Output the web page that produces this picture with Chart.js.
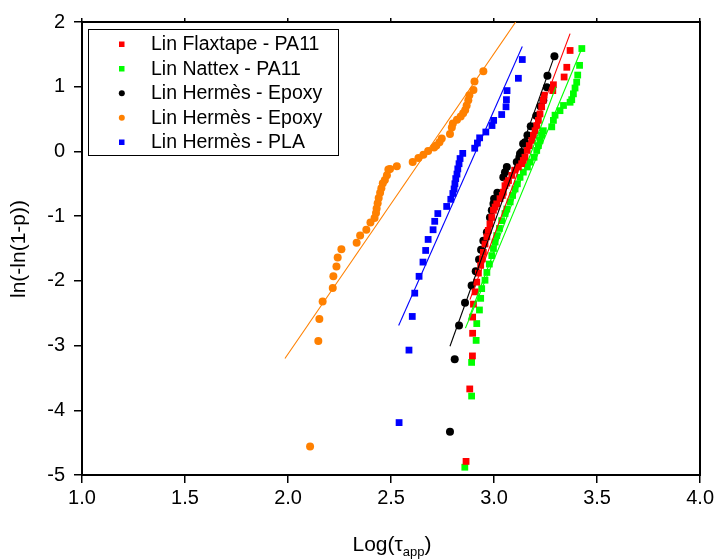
<!DOCTYPE html>
<html><head><meta charset="utf-8">
<script src="https://cdn.jsdelivr.net/npm/chart.js@4.4.0/dist/chart.umd.min.js"></script>
<style>html,body{margin:0;padding:0;background:#fff}#wrap{width:717px;height:560px}</style>
</head><body><div id="wrap"><canvas id="c" width="717" height="560"></canvas></div>
<script>
// ---- data (x = Log(tau_app), y = ln(-ln(1-p))) ----
const seriesLabels = ['Lin Flaxtape - PA11','Lin Nattex - PA11','Lin Hermès - Epoxy','Lin Hermès - Epoxy','Lin Hermès - PLA'];
const xTicks = [1.0,1.5,2.0,2.5,3.0,3.5,4.0];
const yTicks = [2,1,0,-1,-2,-3,-4,-5];

const flaxtapePA11 = [[2.864,-4.79],[2.882,-3.67],[2.895,-3.16],[2.896,-2.81],[2.896,-2.56],[2.900,-2.36],[2.908,-2.17],[2.916,-2.02],[2.924,-1.88],[2.935,-1.76],[2.943,-1.66],[2.948,-1.56],[2.956,-1.43],[2.965,-1.32],[2.972,-1.22],[2.980,-1.12],[2.989,-1.02],[2.997,-0.91],[3.005,-0.86],[3.013,-0.81],[3.029,-0.73],[3.040,-0.68],[3.045,-0.63],[3.053,-0.53],[3.062,-0.49],[3.070,-0.45],[3.086,-0.37],[3.100,-0.29],[3.118,-0.24],[3.134,-0.19],[3.142,-0.14],[3.150,-0.09],[3.161,0.015],[3.171,0.09],[3.183,0.17],[3.191,0.25],[3.199,0.32],[3.207,0.40],[3.215,0.48],[3.223,0.58],[3.231,0.69],[3.239,0.79],[3.243,0.87],[3.285,0.94],[3.288,1.03],[3.340,1.15],[3.353,1.30],[3.369,1.56]];
const nattexPA11 = [[2.858,-4.88],[2.891,-3.78],[2.891,-3.26],[2.913,-2.92],[2.916,-2.66],[2.929,-2.45],[2.935,-2.27],[2.940,-2.12],[2.956,-1.99],[2.965,-1.87],[2.977,-1.74],[2.989,-1.61],[2.997,-1.50],[3.005,-1.40],[3.013,-1.30],[3.026,-1.19],[3.037,-1.07],[3.053,-0.96],[3.062,-0.89],[3.078,-0.78],[3.090,-0.68],[3.102,-0.58],[3.113,-0.50],[3.126,-0.40],[3.142,-0.32],[3.162,-0.24],[3.175,-0.165],[3.194,-0.09],[3.207,0.015],[3.215,0.09],[3.223,0.17],[3.231,0.25],[3.239,0.32],[3.280,0.38],[3.288,0.48],[3.296,0.56],[3.320,0.63],[3.337,0.71],[3.369,0.76],[3.377,0.80],[3.385,0.89],[3.393,0.98],[3.401,1.07],[3.406,1.18],[3.415,1.33],[3.426,1.59]];
const hermesEpoxyBlack = [[2.786,-4.33],[2.809,-3.21],[2.830,-2.69],[2.859,-2.34],[2.891,-2.07],[2.911,-1.85],[2.927,-1.67],[2.937,-1.52],[2.948,-1.38],[2.965,-1.25],[2.980,-1.02],[2.989,-0.91],[2.997,-0.81],[3.000,-0.73],[3.016,-0.64],[3.045,-0.40],[3.053,-0.32],[3.062,-0.24],[3.110,-0.165],[3.123,-0.09],[3.126,-0.035],[3.134,-0.01],[3.141,0.12],[3.150,0.14],[3.162,0.25],[3.178,0.39],[3.205,0.55],[3.225,0.70],[3.239,0.79],[3.256,0.99],[3.259,1.17],[3.293,1.47]];
const hermesEpoxyOrange = [[2.107,-4.56],[2.147,-2.93],[2.152,-2.59],[2.168,-2.32],[2.217,-2.11],[2.220,-1.93],[2.235,-1.78],[2.241,-1.64],[2.259,-1.51],[2.333,-1.41],[2.350,-1.30],[2.380,-1.21],[2.400,-1.10],[2.420,-1.03],[2.427,-0.95],[2.430,-0.88],[2.435,-0.80],[2.440,-0.72],[2.447,-0.64],[2.453,-0.57],[2.460,-0.49],[2.470,-0.44],[2.480,-0.37],[2.487,-0.28],[2.495,-0.27],[2.528,-0.23],[2.605,-0.165],[2.633,-0.10],[2.657,-0.05],[2.680,0.005],[2.709,0.06],[2.720,0.09],[2.735,0.14],[2.746,0.20],[2.786,0.27],[2.795,0.37],[2.800,0.43],[2.820,0.49],[2.838,0.54],[2.850,0.59],[2.860,0.64],[2.867,0.71],[2.875,0.79],[2.880,0.87],[2.900,0.95],[2.905,1.08],[2.948,1.24]];
const hermesPLA = [[2.539,-4.19],[2.587,-3.07],[2.603,-2.55],[2.615,-2.19],[2.636,-1.93],[2.655,-1.71],[2.668,-1.53],[2.680,-1.36],[2.704,-1.21],[2.712,-1.08],[2.727,-0.96],[2.770,-0.85],[2.790,-0.74],[2.800,-0.65],[2.806,-0.58],[2.810,-0.50],[2.814,-0.42],[2.820,-0.35],[2.824,-0.27],[2.830,-0.19],[2.835,-0.11],[2.848,-0.03],[2.906,0.05],[2.919,0.13],[2.930,0.21],[2.960,0.30],[2.990,0.40],[2.998,0.48],[3.037,0.57],[3.058,0.69],[3.060,0.80],[3.063,0.94],[3.118,1.13],[3.137,1.42]];

// fitted lines (end points)
const fitFlaxtape = [[2.883,-2.29],[3.369,1.82]];
const fitNattex = [[2.861,-2.73],[3.426,1.59]];
const fitNattex2 = [[2.875,-2.60],[3.300,1.00]];
const fitEpoxyBlack = [[2.786,-3.01],[3.296,1.50]];
const fitEpoxyOrange = [[1.985,-3.20],[3.105,2.00]];
const fitPLA = [[2.537,-2.69],[3.137,1.62]];

const FONT = "'Liberation Sans', Arial, Helvetica, sans-serif";
const toPts = a => a.map(p => ({x:p[0], y:p[1]}));

const colors = ['#ff0000','#00ff00','#000000','#ff8000','#0000ff'];
const styles = ['rect','rect','circle','circle','rect'];
const seriesData = [flaxtapePA11, nattexPA11, hermesEpoxyBlack, hermesEpoxyOrange, hermesPLA];
const drawOrder = [10,14,12,16,15];

const datasets = [];
seriesData.forEach((d,i) => {
  datasets.push({label: seriesLabels[i], data: toPts(d), backgroundColor: colors[i], borderColor: colors[i],
    pointStyle: styles[i], pointRadius: styles[i]==='rect'?4.8:4, pointBorderWidth:0, pointHoverRadius:0, order: drawOrder[i]});
});
const fits = [[fitFlaxtape,'#ff0000'],[fitNattex,'#00ff00'],[fitNattex2,'#00ff00'],[fitEpoxyBlack,'#000000'],[fitEpoxyOrange,'#ff8000'],[fitPLA,'#0000ff']];
fits.forEach(f => datasets.push({type:'line', label:'fit', data: toPts(f[0]), borderColor: f[1], borderWidth:1.1, pointRadius:0, fill:false, showLine:true, order:1}));

const legendPlugin = {
  id:'customLegend',
  afterDraw(chart){
    const ctx = chart.ctx;
    ctx.save();
    ctx.fillStyle='#fff'; ctx.fillRect(88.5,29.5,250,126);
    ctx.strokeStyle='#000'; ctx.lineWidth=1; ctx.strokeRect(88.5,29.5,250,126);
    const rows=[44,68.5,93,117.5,142];
    ctx.font = "19.5px " + FONT; ctx.textBaseline='middle'; ctx.textAlign='left';
    for(let i=0;i<5;i++){
      ctx.fillStyle=colors[i];
      if(styles[i]==='rect'){ ctx.fillRect(119,rows[i]-2.5,5.5,5.5); }
      else { ctx.beginPath(); ctx.arc(121.8,rows[i]+0.3,3,0,Math.PI*2); ctx.fill(); }
      ctx.fillStyle='#000';
      ctx.fillText(seriesLabels[i],151,rows[i]+1);
    }
    // axis titles
    ctx.fillStyle='#000';
    ctx.textBaseline='alphabetic';
    const big = "21px " + FONT, small = "13px " + FONT;
    ctx.font=big; const w1=ctx.measureText('Log(τ').width, w3=ctx.measureText(')').width;
    ctx.font=small; const w2=ctx.measureText('app').width;
    let x0 = 392 - (w1+w2+w3)/2;
    ctx.font=big; ctx.fillText('Log(τ',x0,551);
    ctx.font=small; ctx.fillText('app',x0+w1,556);
    ctx.font=big; ctx.fillText(')',x0+w1+w2,551);
    ctx.translate(19,249); ctx.rotate(-Math.PI/2);
    ctx.font="21px " + FONT; ctx.textAlign='center'; ctx.textBaseline='middle';
    ctx.fillText('ln(-ln(1-p))',0,0);
    ctx.restore();
  }
};

const axisCommon = {grid:{drawOnChartArea:false, drawTicks:true, tickLength:8, color:'#000', lineWidth:1.5}, border:{display:true, color:'#000', width:2}};

new Chart(document.getElementById('c'), {
  type:'scatter',
  data:{datasets},
  options:{
    responsive:false, animation:false, devicePixelRatio:1,
    layout:{padding:{left:0,right:16,top:22,bottom:0}},
    plugins:{legend:{display:false}, tooltip:{enabled:false}},
    events:[],
    scales:{
      x:{type:'linear', position:'bottom', min:xTicks[0], max:xTicks[xTicks.length-1],
        afterBuildTicks(s){ s.ticks = xTicks.map(v=>({value:v})); },
        ticks:{callback:v=>Number(v).toFixed(1), font:{family:FONT,size:20}, color:'#000', padding:3, maxRotation:0, autoSkip:false},
        ...axisCommon, afterFit(s){ s.height=85; }},
      x2:{type:'linear', position:'top', min:xTicks[0], max:xTicks[xTicks.length-1],
        afterBuildTicks(s){ s.ticks = xTicks.map(v=>({value:v})); },
        ticks:{display:false}, grid:{drawOnChartArea:false, drawTicks:true, tickLength:4, color:'#000', lineWidth:1.5},
        border:{display:true,color:'#000',width:2}, afterFit(s){ s.height=0; }},
      y:{type:'linear', position:'left', min:yTicks[yTicks.length-1], max:yTicks[0],
        afterBuildTicks(s){ s.ticks = yTicks.map(v=>({value:v})); },
        ticks:{callback:v=>String(v), font:{family:FONT,size:20}, color:'#000', padding:9},
        ...axisCommon, afterFit(s){ s.width=82; }},
      y2:{type:'linear', position:'right', min:yTicks[yTicks.length-1], max:yTicks[0],
        ticks:{display:false}, grid:{drawOnChartArea:false, drawTicks:false},
        border:{display:true,color:'#000',width:2}, afterFit(s){ s.width=0; }}
    }
  },
  plugins:[legendPlugin]
});
</script></body></html>
